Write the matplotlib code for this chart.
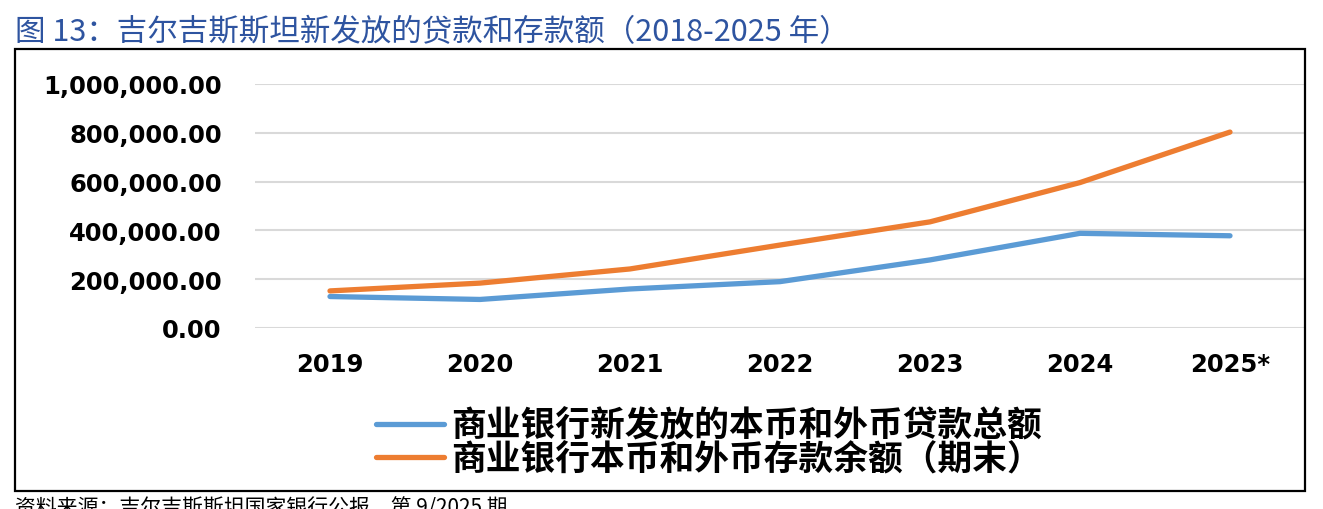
import matplotlib.pyplot as plt
from matplotlib.patches import Rectangle
from matplotlib.ticker import FuncFormatter

plt.rcParams['font.family'] = ['Noto Sans CJK SC', 'DejaVu Sans']

# Data
years = ['2019', '2020', '2021', '2022', '2023', '2024', '2025*']
loans = [129000, 117000, 160000, 190000, 279000, 388000, 378000]
deposits = [152000, 184000, 242000, 340000, 435000, 596000, 803000]
labels = ['商业银行新发放的本币和外币贷款总额', '商业银行本币和外币存款余额（期末）']

W, H = 1323, 510
fig = plt.figure(figsize=(W / 100, H / 100), dpi=100)

# Title and source
fig.text(15 / W, 1 - 33 / H, '图 13：吉尔吉斯斯坦新发放的贷款和存款额（2018-2025 年）',
         color='#2E54A0', fontsize=22, va='center', ha='left')
fig.text(15 / W, 1 - 497 / H, '资料来源：吉尔吉斯斯坦国家银行公报，第 9/2025 期',
         color='black', fontsize=15, va='top', ha='left')

# Chart border
fig.patches.append(Rectangle((15 / W, 1 - 492 / H), 1290 / W, 442 / H,
                             transform=fig.transFigure, fill=False,
                             edgecolor='black', linewidth=1.6))

ax = fig.add_axes([255 / W, 1 - 329 / H, 1050 / W, 244 / H])
x = range(len(years))
ax.plot(x, loans, color='#5B9BD5', linewidth=3.8, label=labels[0], solid_capstyle='round')
ax.plot(x, deposits, color='#ED7D31', linewidth=3.8, label=labels[1], solid_capstyle='round')

ax.set_xlim(-0.5, len(years) - 0.5)
ax.set_ylim(0, 1000000)
ax.set_yticks(range(0, 1000001, 200000))
ax.yaxis.set_major_formatter(FuncFormatter(lambda v, p: f'{v:,.2f}'))
ax.set_xticks(list(x))
ax.set_xticklabels(years)
ax.grid(axis='y', color='#D9D9D9', linewidth=1.5)
ax.set_axisbelow(True)
for s in ax.spines.values():
    s.set_visible(False)
ax.tick_params(length=0)
ax.tick_params(axis='y', pad=24)
ax.tick_params(axis='x', pad=17)
for t in ax.get_xticklabels() + ax.get_yticklabels():
    t.set_fontfamily('DejaVu Sans')
    t.set_fontweight('bold')
    t.set_fontsize(17.5)

fig.legend(loc='upper left', bbox_to_anchor=(376 / W, 1 - 409 / H), frameon=False,
           handlelength=1.95, handletextpad=0.2, labelspacing=-0.05,
           borderpad=0, borderaxespad=0, prop={'weight': 'bold', 'size': 25})

fig.savefig('out.png', dpi=100)
